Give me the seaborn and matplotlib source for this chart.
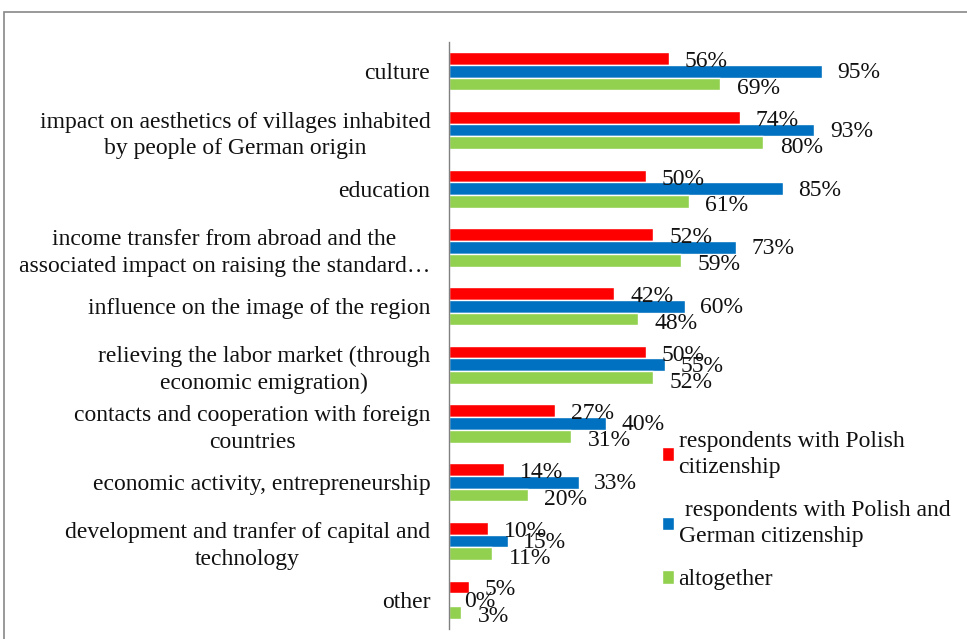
import matplotlib
matplotlib.use("Agg")
import matplotlib.pyplot as plt
import seaborn as sns
import pandas as pd
from matplotlib.patches import Rectangle

categories = [
    "culture",
    "impact on aesthetics of villages inhabited\nby people of German origin",
    "education",
    "income transfer from abroad and the\nassociated impact on raising the standard…",
    "influence on the image of the region",
    "relieving the labor market (through\neconomic emigration)",
    "contacts and cooperation with foreign\ncountries",
    "economic activity, entrepreneurship",
    "development and tranfer of capital and\ntechnology",
    "other",
]
series_names = [
    "respondents with Polish\ncitizenship",
    " respondents with Polish and\nGerman citizenship",
    "altogether",
]
polish = [56, 74, 50, 52, 42, 50, 27, 14, 10, 5]
polish_german = [95, 93, 85, 73, 60, 55, 40, 33, 15, 0]
altogether = [69, 80, 61, 59, 48, 52, 31, 20, 11, 3]
colors = ["#FF0000", "#0070C0", "#92D050"]

rows = []
for s, vals in zip(series_names, [polish, polish_german, altogether]):
    for c, v in zip(categories, vals):
        rows.append({"category": c, "series": s, "value": v / 100})
df = pd.DataFrame(rows)

sns.set_style("white")
plt.rcParams["font.family"] = ["Liberation Serif", "DejaVu Serif"]

FS = 17
fig = plt.figure(figsize=(9.67, 6.39), dpi=100)
W, H = 967, 639
ax = fig.add_axes([449 / W, 1 - 629 / H, (842 - 449) / W, (629 - 42) / H])

sns.barplot(data=df, y="category", x="value", hue="series", order=categories,
            hue_order=series_names, palette=colors, orient="h", width=0.65,
            saturation=1, ax=ax, legend=True)

ax.set_xlim(0, 1)
ax.set_ylim(len(categories) - 0.5, -0.5)
ax.set_xlabel("")
ax.set_ylabel("")
ax.set_xticks([])
for sp in ["top", "right", "bottom"]:
    ax.spines[sp].set_visible(False)
ax.spines["left"].set_color("#808080")
ax.spines["left"].set_linewidth(1)

ax.set_yticks(range(len(categories)))
ax.set_yticklabels(categories, fontsize=FS, multialignment="center", color="#111111",
                   linespacing=1.35)
ax.tick_params(axis="y", which="major", length=0, pad=13.5)
ax.set_yticks([i - 0.5 for i in range(len(categories) + 1)], minor=True)
ax.tick_params(axis="y", which="minor", length=7, color="#808080", width=1, direction="out")

# data labels (offsets in points)
offsets = [(11.5, -2.2), (11, -1.0), (12, -3.2)]
for si, (s, vals) in enumerate(zip(series_names, [polish, polish_german, altogether])):
    cont = ax.containers[si]
    for bar, v in zip(cont, vals):
        y = bar.get_y() + bar.get_height() / 2
        ax.annotate(f"{v}%", xy=(bar.get_width(), y), xytext=offsets[si],
                    textcoords="offset points", ha="left", va="center",
                    fontsize=FS, color="#111111", annotation_clip=False)

leg = ax.legend(loc="upper left", bbox_to_anchor=(662 / W, 1 - 431 / H),
                bbox_transform=fig.transFigure, frameon=False, fontsize=FS,
                handlelength=0.5, handleheight=0.5, handletextpad=0.2,
                labelspacing=0.95, borderaxespad=0, borderpad=0)
for t in leg.get_texts():
    t.set_linespacing(1.3)
    t.set_color("#111111")

fig.patches.append(Rectangle((4 / W, -0.1), 1.2, 1 - 12 / H + 0.1, transform=fig.transFigure,
                             fill=False, edgecolor="#888888", linewidth=1.2))

fig.savefig("out.png", dpi=100)
